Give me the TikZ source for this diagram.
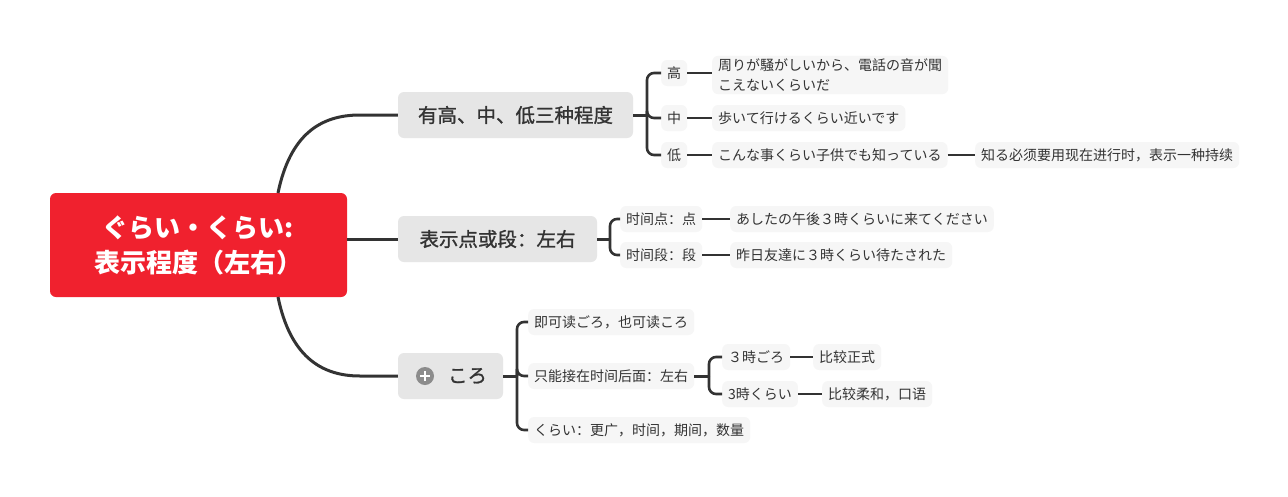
\documentclass[tikz,border=0pt]{standalone}
\usepackage{fontspec}
\setmainfont{Noto Sans CJK SC}
\newfontfamily\medfont{Noto Sans CJK SC}[FakeBold=1.2]
\definecolor{rootred}{HTML}{F0212E}
\definecolor{maingrey}{HTML}{E6E6E6}
\definecolor{leafgrey}{HTML}{F6F6F6}
\definecolor{txt}{HTML}{333333}
\definecolor{lc}{HTML}{333333}
\definecolor{icon}{HTML}{8C8C8C}
\begin{document}
\begin{tikzpicture}[x=1pt,y=-1pt,
  rootbox/.style={fill=rootred, rounded corners=6pt, text=white, font=\fontsize{26}{35}\selectfont\bfseries, align=center, minimum width=297pt, minimum height=104pt, inner sep=0pt},
  mainbox/.style={fill=maingrey, rounded corners=6pt, text=txt, font=\fontsize{19.5}{23}\selectfont\medfont, minimum height=46pt, inner sep=0pt},
  leaf/.style={fill=leafgrey, rounded corners=6pt, text=txt, font=\fontsize{14}{19.5}\selectfont, minimum height=26pt, inner xsep=6pt, inner ysep=3pt, anchor=west},
  conn/.style={line width=3pt, draw=lc},
  subconn/.style={line width=2.6pt, draw=lc, rounded corners=7pt},
  leafconn/.style={line width=2.4pt, draw=lc}]
\useasboundingbox (0,0) rectangle (1288,496);
\fill[white] (0,0) rectangle (1288,496);

% root
\node[rootbox] (root) at (198.5,245) {ぐらい・くらい:\\表示程度（左右）};

% main branches
\node[mainbox, minimum width=235pt] (b1) at (515.5,115) {有高、中、低三种程度};
\node[mainbox, minimum width=199pt] (b2) at (497.5,239) {表示点或段：左右};
\node[mainbox, minimum width=105pt, text width=87pt, align=right] (b3) at (450.5,376) {ころ\hspace*{7pt}};
\node[circle, fill=icon, minimum size=18pt, inner sep=0pt,
  path picture={\draw[white, line width=2.2pt] ([xshift=-5pt]path picture bounding box.center) -- ([xshift=5pt]path picture bounding box.center);
                \draw[white, line width=2.2pt] ([yshift=-5pt]path picture bounding box.center) -- ([yshift=5pt]path picture bounding box.center);}] (b3icon) at (425,376) {};

\coordinate (r1) at (278,193);
\coordinate (r3) at (278,297);
\draw[conn] (r1) .. controls (290,135) and (320,115) .. (360,115) -- (b1.west);
\draw[conn] (root.east |- b2.west) -- (b2.west);
\draw[conn] (r3) .. controls (290,355) and (320,376) .. (360,376) -- (b3.west);

% branch 1 children
\node[leaf] (c11) at (661,73) {高};
\node[leaf] (c12) at (661,118) {中};
\node[leaf] (c13) at (661,155) {低};
\node[leaf, align=left] (d11) at (712,75) {周りが騒がしいから、電話の音が聞\\こえないくらいだ};
\node[leaf] (d12) at (712,118) {歩いて行けるくらい近いです};
\node[leaf] (d13) at (712,155) {こんな事くらい子供でも知っている};
\node[leaf] (e13) at (975,155) {知る必须要用现在进行时，表示一种持续};

\coordinate (k1) at (647,115);
\draw[conn] (b1.east) -- (k1);
\draw[subconn] (k1) |- (c11.west);
\draw[subconn] (k1) |- (c12.west);
\draw[subconn] (k1) |- (c13.west);
\draw[leafconn] (c11.east) -- (c11.east -| d11.west);
\draw[leafconn] (c12.east) -- (d12.west);
\draw[leafconn] (c13.east) -- (d13.west);
\draw[leafconn] (d13.east) -- (e13.west);

% branch 2 children
\node[leaf] (c21) at (620,219) {时间点：点};
\node[leaf] (c22) at (620,255) {时间段：段};
\node[leaf] (d21) at (730,219) {あしたの午後３時くらいに来てください};
\node[leaf] (d22) at (730,255) {昨日友達に３時くらい待たされた};
\coordinate (k2) at (610,239);
\draw[conn] (b2.east) -- (k2);
\draw[subconn] (k2) |- (c21.west);
\draw[subconn] (k2) |- (c22.west);
\draw[leafconn] (c21.east) -- (d21.west);
\draw[leafconn] (c22.east) -- (d22.west);

% branch 3 children
\node[leaf] (c31) at (528,322) {即可读ごろ，也可读ころ};
\node[leaf] (c32) at (528,376) {只能接在时间后面：左右};
\node[leaf] (c33) at (528,430) {くらい：更广，时间，期间，数量};
\coordinate (k3) at (517,376);
\draw[conn] (b3.east) -- (k3);
\draw[subconn] (k3) |- (c31.west);
\draw[subconn] (k3) |- (c32.west);
\draw[subconn] (k3) |- (c33.west);

\node[leaf] (d31) at (722,357) {３時ごろ};
\node[leaf] (d32) at (722,394) {3時くらい};
\node[leaf] (e31) at (813,357) {比较正式};
\node[leaf] (e32) at (822,394) {比较柔和，口语};
\coordinate (k4) at (709,376);
\draw[conn] (c32.east) -- (k4);
\draw[subconn] (k4) |- (d31.west);
\draw[subconn] (k4) |- (d32.west);
\draw[leafconn] (d31.east) -- (e31.west);
\draw[leafconn] (d32.east) -- (e32.west);
\end{tikzpicture}
\end{document}
